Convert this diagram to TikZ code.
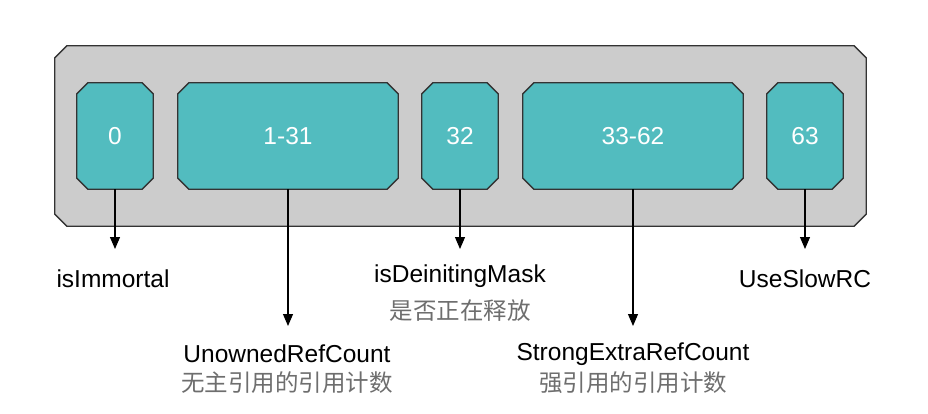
\documentclass[tikz,border=0pt]{standalone}
\usepackage{fontspec}
\setmainfont{Liberation Sans}
\newfontfamily\cjk{Noto Sans CJK SC}
\usetikzlibrary{arrows.meta,calc,backgrounds}
\definecolor{tealfill}{RGB}{82,188,191}
\definecolor{grayfill}{RGB}{204,204,204}
\definecolor{edge}{RGB}{51,51,51}
\definecolor{cngray}{RGB}{110,110,110}
\tikzset{
  outerbox/.style={rectangle, minimum width=811pt, minimum height=180pt, inner sep=0pt},
  bitbox/.style={rectangle, minimum height=106pt, inner sep=0pt,
    text=white, font=\fontsize{24.5}{28}\selectfont},
  narrow/.style={bitbox, minimum width=76pt},
  wide/.style={bitbox, minimum width=220pt},
  chamf/.style={draw=edge, line width=1.3pt, line join=miter},
  lbl/.style={font=\fontsize{24.5}{28}\selectfont, inner sep=0pt, anchor=center},
  cn/.style={font=\cjk\fontsize{23.5}{27}\selectfont, text=cngray, inner sep=0pt, anchor=center},
  arr/.style={draw=black, line width=1.1pt, -{Triangle[width=10pt,length=12pt]}}
}
\newcommand{\chamfbox}[3]{% node name, chamfer, fill
  \path[chamf, fill=#3]
    ($(#1.north west)+(#2,0)$) -- ($(#1.north east)+(-#2,0)$) -- ($(#1.north east)+(0,#2)$)
    -- ($(#1.south east)+(0,-#2)$) -- ($(#1.south east)+(-#2,0)$) -- ($(#1.south west)+(#2,0)$)
    -- ($(#1.south west)+(0,-#2)$) -- ($(#1.north west)+(0,#2)$) -- cycle;}
\begin{document}
\begin{tikzpicture}[x=1pt,y=-1pt]
\useasboundingbox (0,0) rectangle (928,414);
\node[outerbox] (outer) at (460.5,136) {};
\node[narrow] (b0) at (115,136) {0};
\node[wide] (b1) at (288,136) {1-31};
\node[narrow] (b32) at (460,136) {32};
\node[wide] (b33) at (633,136) {33-62};
\node[narrow] (b63) at (805,136) {63};
\begin{pgfonlayer}{background}
\fill[white] (0,0) rectangle (928,414);
\chamfbox{outer}{12}{grayfill}
\chamfbox{b0}{11}{tealfill}
\chamfbox{b1}{11}{tealfill}
\chamfbox{b32}{11}{tealfill}
\chamfbox{b33}{11}{tealfill}
\chamfbox{b63}{11}{tealfill}
\end{pgfonlayer}
\coordinate (e0) at (115,249);
\coordinate (e1) at (288,326);
\coordinate (e32) at (460,249);
\coordinate (e33) at (633,326);
\coordinate (e63) at (805,249);
\draw[arr] (b0.south) -- (e0);
\draw[arr] (b1.south) -- (e1);
\draw[arr] (b32.south) -- (e32);
\draw[arr] (b33.south) -- (e33);
\draw[arr] (b63.south) -- (e63);
\node[lbl] (l0) at (113,279) {isImmortal};
\node[lbl] (l1) at (287,354) {UnownedRefCount};
\node[cn] (c1) at (287,383) {无主引用的引用计数};
\node[lbl] (l32) at (460,276) {isDeinitingMask};
\node[cn] (c32) at (460,311) {是否正在释放};
\node[lbl] (l33) at (633,354) {StrongExtraRefCount};
\node[cn] (c33) at (633,383) {强引用的引用计数};
\node[lbl] (l63) at (805,279) {UseSlowRC};
\end{tikzpicture}
\end{document}
